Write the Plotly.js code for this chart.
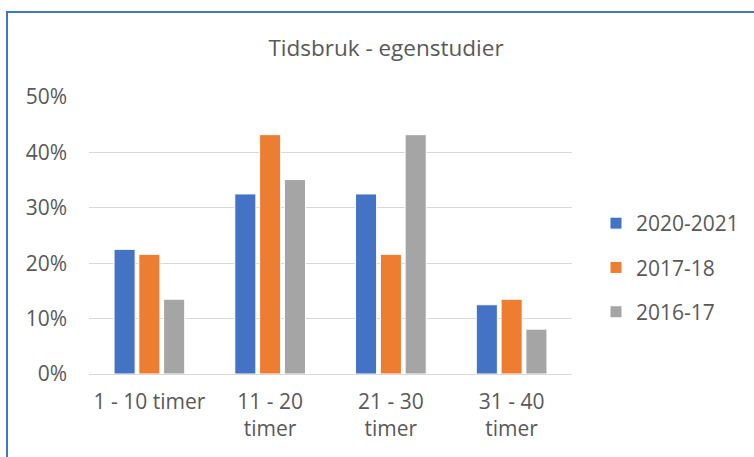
<!DOCTYPE html>
<html>
<head>
<meta charset="utf-8">
<script src="https://cdn.plot.ly/plotly-3.0.1.min.js"></script>
<style>
  html, body { margin: 0; padding: 0; background: #fff; }
  #wrap { position: relative; width: 754px; height: 457px; overflow: hidden; }
  #chart { position: absolute; left: 0; top: 0; width: 754px; height: 457px; }
  #frame { position: absolute; left: 6px; top: 11px; width: 800px; height: 500px;
           border-left: 2px solid #4472C4; border-top: 2px solid #4472C4; pointer-events: none; z-index: 10; }
</style>
</head>
<body>
<div id="wrap">
  <div id="chart"></div>
  <div id="frame"></div>
</div>
<script>
const categories = ["1 - 10 timer", "11 - 20<br>timer", "21 - 30<br>timer", "31 - 40<br>timer"];
const seriesNames = ["2020-2021", "2017-18", "2016-17"];
const values2020 = [0.225, 0.325, 0.325, 0.125];
const values2017 = [0.216, 0.432, 0.216, 0.135];
const values2016 = [0.135, 0.351, 0.432, 0.081];
const colors = ["#4472C4", "#ED7D31", "#A5A5A5"];
const yTicks = [0, 0.1, 0.2, 0.3, 0.4, 0.5];
const yTickText = ["0%", "10%", "20%", "30%", "40%", "50%"];

const allValues = [values2020, values2017, values2016];
const traces = allValues.map((vals, i) => ({
  type: "bar",
  name: seriesNames[i],
  x: categories,
  y: vals,
  legendgroup: "g" + i,
  marker: { color: colors[i], line: { color: "#ffffff", width: 1 } },
  hoverinfo: "x+y+name"
}));

const textColor = "#595959";
const layout = {
  width: 754,
  height: 457,
  margin: { l: 89, r: 182, t: 97, b: 83 },
  paper_bgcolor: "#ffffff",
  plot_bgcolor: "#ffffff",
  font: { family: "Open Sans, sans-serif", size: 21, color: textColor },
  title: {
    text: "Tidsbruk - egenstudier",
    font: { family: "Open Sans, sans-serif", size: 22.5, color: textColor },
    xref: "container", x: 386 / 754, xanchor: "center",
    yref: "container", y: 1 - 48 / 457, yanchor: "middle"
  },
  bargap: 0.384,
  bargroupgap: 0.15,
  barmode: "group",
  xaxis: {
    type: "category",
    showgrid: false,
    showline: false,
    zeroline: false,
    ticks: "",
    ticklabelstandoff: 13,
    tickfont: { size: 21, color: textColor }
  },
  yaxis: {
    range: [0, 0.5],
    tickvals: yTicks,
    ticktext: yTickText,
    showgrid: true,
    gridcolor: "#D9D9D9",
    gridwidth: 1,
    zeroline: true,
    zerolinecolor: "#D9D9D9",
    zerolinewidth: 1,
    showline: false,
    ticks: "",
    ticklabelstandoff: 21,
    tickfont: { size: 21, color: textColor }
  },
  showlegend: true,
  legend: {
    xref: "container", yref: "container",
    x: 596 / 754, y: 1 - 203 / 457,
    xanchor: "left", yanchor: "top",
    traceorder: "grouped",
    tracegroupgap: 14,
    font: { size: 21, color: textColor },
    bgcolor: "rgba(0,0,0,0)"
  }
};

Plotly.newPlot("chart", traces, layout, { displayModeBar: false, staticPlot: true });
</script>
</body>
</html>
